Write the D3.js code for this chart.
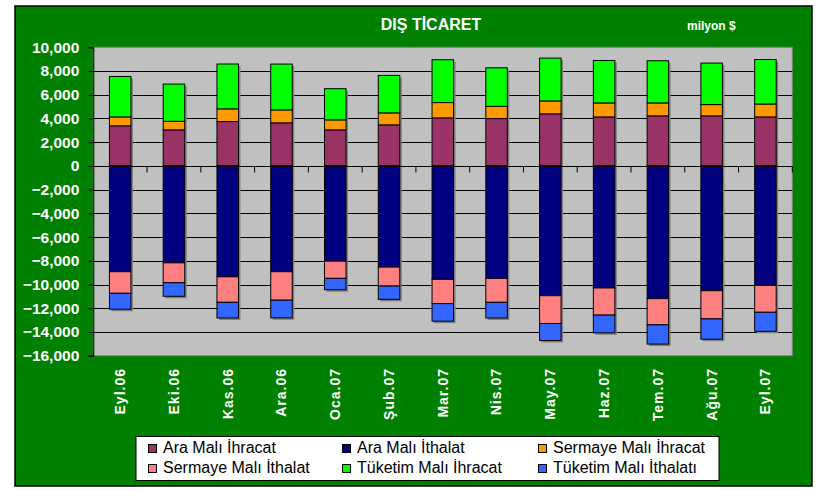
<!DOCTYPE html>
<html>
<head>
<meta charset="utf-8">
<script src="https://cdn.jsdelivr.net/npm/d3@7"></script>
<style>
  body { margin: 0; background: #fff; }
  svg text { font-family: "Liberation Sans", Arial, sans-serif; }
</style>
</head>
<body>
<main></main>
<script>
// months
const months = ["Eyl.06", "Eki.06", "Kas.06", "Ara.06", "Oca.07", "Şub.07", "Mar.07",
                "Nis.07", "May.07", "Haz.07", "Tem.07", "Ağu.07", "Eyl.07"];

// series (milyon $)
const araIhracat     = [3380, 3040, 3740, 3630, 3040, 3460, 4050, 3990, 4390, 4130, 4220, 4220, 4130];
const araIthalat     = [-8920, -8170, -9350, -8920, -8030, -8530, -9560, -9480, -10940, -10290, -11190, -10520, -10070];
const sermayeIhracat = [750, 720, 1070, 1090, 840, 1010, 1290, 1030, 1090, 1180, 1090, 950, 1090];
const sermayeIthalat = [-1820, -1680, -2150, -2400, -1450, -1600, -2050, -2020, -2350, -2290, -2210, -2380, -2270];
const tuketimIhracat = [3410, 3140, 3780, 3865, 2630, 3160, 3610, 3250, 3610, 3580, 3555, 3500, 3750];
const tuketimIthalat = [-1340, -1140, -1320, -1490, -960, -1120, -1480, -1320, -1430, -1490, -1620, -1710, -1600];

const seriesNames = ["Ara Malı İhracat", "Ara Malı İthalat", "Sermaye Malı İhracat",
                     "Sermaye Malı İthalat", "Tüketim Malı İhracat", "Tüketim Malı İthalatı"];
const seriesColors = ["#993366", "#000080", "#FF9900", "#FF8080", "#00FF00", "#3366FF"];
const seriesValues = [araIhracat, araIthalat, sermayeIhracat, sermayeIthalat, tuketimIhracat, tuketimIthalat];

const yTicks = d3.range(-16000, 10001, 2000);

const W = 817, H = 490;
const plotLeft = 93.3, plotRight = 792.3, plotTop = 47.3, plotBottom = 355.7;

var rows = months.map(function (m, i) {
    var r = { month: m };
    seriesNames.forEach(function (s, k) { r[s] = seriesValues[k][i]; });
    return r;
});

var svg = d3.select("main").append("svg")
            .attr("width", W)
            .attr("height", H);

// outer green frame
svg.append("rect")
   .attr("x", 15).attr("y", 6)
   .attr("width", 797).attr("height", 480)
   .style("fill", "#008000")
   .style("stroke", "#000")
   .style("stroke-width", 1.5);

svg.append("text")
   .attr("x", 431).attr("y", 30)
   .attr("text-anchor", "middle")
   .style("font-size", "16px").style("font-weight", "bold")
   .style("fill", "#fff")
   .text("DIŞ TİCARET");

svg.append("text")
   .attr("x", 687).attr("y", 30)
   .style("font-size", "12px").style("font-weight", "bold")
   .style("fill", "#fff")
   .text("milyon $");

var x = d3.scaleBand()
          .domain(months)
          .range([plotLeft, plotRight])
          .paddingInner(0.6)
          .paddingOuter(0.3);

var y = d3.scaleLinear()
          .domain([-16000, 10000])
          .range([plotBottom, plotTop]);

// plot area
svg.append("rect")
   .attr("x", plotLeft).attr("y", plotTop)
   .attr("width", plotRight - plotLeft).attr("height", plotBottom - plotTop)
   .style("fill", "#C0C0C0")
   .style("stroke", "#808080")
   .style("stroke-width", 1);

// gridlines
svg.append("g").selectAll("line")
   .data(yTicks.filter(function (t) { return t > -16000 && t < 10000; }))
   .enter().append("line")
   .attr("x1", plotLeft).attr("x2", plotRight)
   .attr("y1", function (d) { return Math.round(y(d)) + 0.5; })
   .attr("y2", function (d) { return Math.round(y(d)) + 0.5; })
   .style("stroke", "#000")
   .style("stroke-width", 1);

var stack = d3.stack()
              .keys(seriesNames)
              .offset(d3.stackOffsetDiverging);
var layers = stack(rows);

// shadows
svg.append("g").selectAll("g")
   .data(layers)
   .enter().append("g")
   .selectAll("rect")
   .data(function (d) { return d; })
   .enter().append("rect")
   .attr("x", function (d) { return x(d.data.month) + 2; })
   .attr("y", function (d) { return Math.min(y(d[0]), y(d[1])) + 2; })
   .attr("width", x.bandwidth())
   .attr("height", function (d) { return Math.abs(y(d[0]) - y(d[1])); })
   .style("fill", "#808080");

// bars
svg.append("g").selectAll("g")
   .data(layers)
   .enter().append("g")
   .style("fill", function (d, i) { return seriesColors[i]; })
   .selectAll("rect")
   .data(function (d) { return d; })
   .enter().append("rect")
   .attr("x", function (d) { return x(d.data.month); })
   .attr("y", function (d) { return Math.min(y(d[0]), y(d[1])); })
   .attr("width", x.bandwidth())
   .attr("height", function (d) { return Math.abs(y(d[0]) - y(d[1])); })
   .style("stroke", "#000")
   .style("stroke-width", 1);

// zero line with category ticks
var y0 = Math.round(y(0)) + 0.5;
svg.append("line")
   .attr("x1", plotLeft).attr("x2", plotRight)
   .attr("y1", y0).attr("y2", y0)
   .style("stroke", "#000");
svg.append("g").selectAll("line")
   .data(months)
   .enter().append("line")
   .attr("x1", function (d) { return x(d) + x.bandwidth() / 2 + x.step() / 2; })
   .attr("x2", function (d) { return x(d) + x.bandwidth() / 2 + x.step() / 2; })
   .attr("y1", y0).attr("y2", y0 + 6)
   .style("stroke", "#000");

// y axis
var yAxis = svg.append("g")
               .attr("transform", "translate(" + plotLeft + ",0)")
               .call(d3.axisLeft(y).tickValues(yTicks).tickSize(5).tickPadding(9)
                       .tickFormat(d3.format(",")));
yAxis.select(".domain").style("stroke", "#000");
yAxis.selectAll(".tick line").style("stroke", "#000");
yAxis.selectAll("text")
     .style("font-size", "15.5px").style("font-weight", "bold")
     .style("fill", "#fff")
     .style("font-family", "'Liberation Sans', Arial, sans-serif");

// month labels
svg.append("g").selectAll("text")
   .data(months)
   .enter().append("text")
   .attr("transform", function (d) {
       return "translate(" + (x(d) + x.bandwidth() / 2) + ",368) rotate(-90)";
   })
   .attr("text-anchor", "end")
   .attr("dy", "0.35em")
   .style("font-size", "14px").style("font-weight", "bold")
   .style("letter-spacing", "1px")
   .style("fill", "#fff")
   .text(function (d) { return d; });

// legend
var legend = svg.append("g");
legend.append("rect")
      .attr("x", 136).attr("y", 436.5)
      .attr("width", 583).attr("height", 44)
      .style("fill", "#fff")
      .style("stroke", "#000");

var colX = [148, 342, 538];
var rowY = [453, 473];
var items = legend.selectAll("g.item")
                  .data(seriesNames)
                  .enter().append("g")
                  .attr("transform", function (d, i) {
                      return "translate(" + colX[i % 3] + "," + rowY[Math.floor(i / 3)] + ")";
                  });
items.append("rect")
     .attr("x", 0.5).attr("y", -8.5)
     .attr("width", 8).attr("height", 8)
     .style("fill", function (d, i) { return seriesColors[i]; })
     .style("stroke", "#000");
items.append("text")
     .attr("x", 15).attr("y", 0)
     .style("font-size", "16px")
     .style("fill", "#000")
     .text(function (d) { return d; });
</script>
</body>
</html>
